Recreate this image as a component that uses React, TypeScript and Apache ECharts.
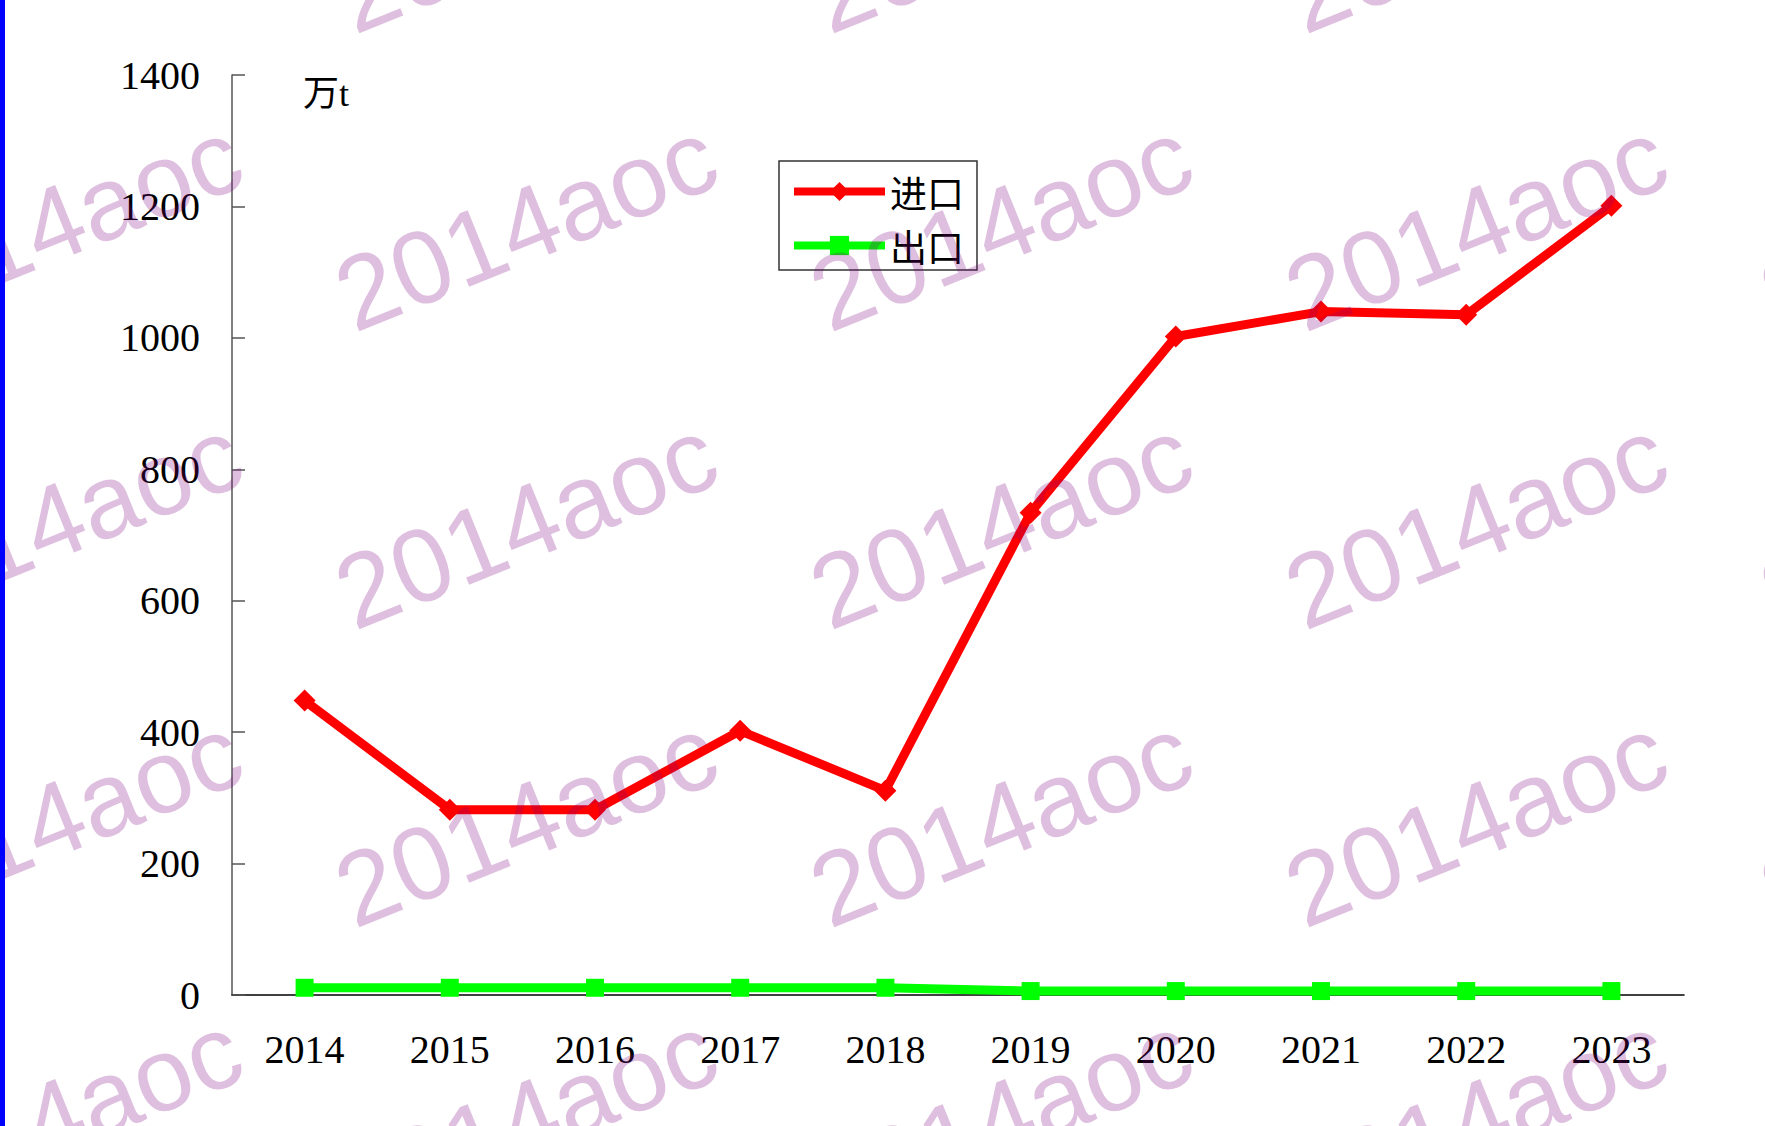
import React, { useEffect, useRef } from "react";
import * as echarts from "echarts";

const years = ["2014", "2015", "2016", "2017", "2018", "2019", "2020", "2021", "2022", "2023"];
const importValues = [448, 282, 282, 402, 311, 734, 1002, 1040, 1035, 1201];
const exportValues = [11, 11, 11, 11, 11, 6, 6, 6, 6, 6];
const seriesNames = ["进口", "出口"];
const unitLabel = "万t";
const watermarkText = "2014aoc";

const wmCols = [51, 526, 1001, 1476, 1951];
const wmRows = [-73, 225, 523, 821, 1119];

export default function App() {
  const ref = useRef<HTMLDivElement>(null);
  useEffect(() => {
    if (!ref.current) return;
    const chart = echarts.init(ref.current, null, { renderer: "svg" });
    const serif = "'Liberation Serif', 'Noto Sans CJK SC', serif";
    const watermarks: any[] = [];
    wmRows.forEach((y) =>
      wmCols.forEach((x) =>
        watermarks.push({
          type: "text",
          x,
          y,
          rotation: (22 * Math.PI) / 180,
          z: 100,
          silent: true,
          style: {
            text: watermarkText,
            fill: "rgba(128,0,128,0.25)",
            font: "104px 'Liberation Sans', Arial, sans-serif",
            align: "center",
            verticalAlign: "middle",
          },
        })
      )
    );
    chart.setOption({
      animation: false,
      backgroundColor: "#fff",
      grid: { left: 232, right: 81, top: 75, bottom: 131, containLabel: false },
      legend: {
        data: seriesNames,
        orient: "vertical",
        left: 779,
        top: 161,
        itemWidth: 91,
        itemHeight: 24,
        itemGap: 17,
        padding: [12, 13, 6, 11],
        borderColor: "#333",
        borderWidth: 1.5,
        backgroundColor: "#fff",
        lineStyle: { width: 8 },
        textStyle: {
          fontSize: 37,
          lineHeight: 37,
          color: "#000",
          fontFamily: "'Noto Sans CJK SC', serif",
        },
      },
      xAxis: {
        type: "category",
        data: years,
        boundaryGap: true,
        axisLine: { lineStyle: { color: "#000", width: 1.5 } },
        axisTick: { inside: true, length: 12, alignWithLabel: false, lineStyle: { color: "#555", width: 1.5 } },
        axisLabel: { fontSize: 40, color: "#000", fontFamily: serif, margin: 34 },
        splitLine: { show: false },
      },
      yAxis: {
        type: "value",
        min: 0,
        max: 1400,
        interval: 200,
        axisLine: { show: true, lineStyle: { color: "#555", width: 1.5 } },
        axisTick: { show: true, inside: true, length: 13, lineStyle: { color: "#555", width: 1.5 } },
        axisLabel: {
          fontSize: 40,
          color: "#000",
          fontFamily: serif,
          margin: 32,
          formatter: (v: number) => String(v),
        },
        splitLine: { show: false },
      },
      series: [
        {
          name: seriesNames[0],
          type: "line",
          data: importValues,
          symbol: "diamond",
          symbolSize: 22,
          lineStyle: { color: "#ff0000", width: 9 },
          itemStyle: { color: "#ff0000" },
        },
        {
          name: seriesNames[1],
          type: "line",
          data: exportValues,
          symbol: "rect",
          symbolSize: 18,
          lineStyle: { color: "#00ff00", width: 9 },
          itemStyle: { color: "#00ff00" },
        },
      ],
      graphic: [
        {
          type: "rect",
          left: 0,
          top: 0,
          shape: { x: 0, y: 0, width: 5, height: 1126 },
          style: { fill: "#0000ff" },
          z: 101,
        },
        {
          type: "text",
          left: 303,
          top: 76,
          style: { text: unitLabel, font: "36px 'Liberation Serif', 'Noto Sans CJK SC', serif", fill: "#000" },
        },
        ...watermarks,
      ],
    });
    return () => chart.dispose();
  }, []);
  return (
    <div
      ref={ref}
      style={{ position: "absolute", left: 0, top: 0, width: 1765, height: 1126 }}
    />
  );
}
